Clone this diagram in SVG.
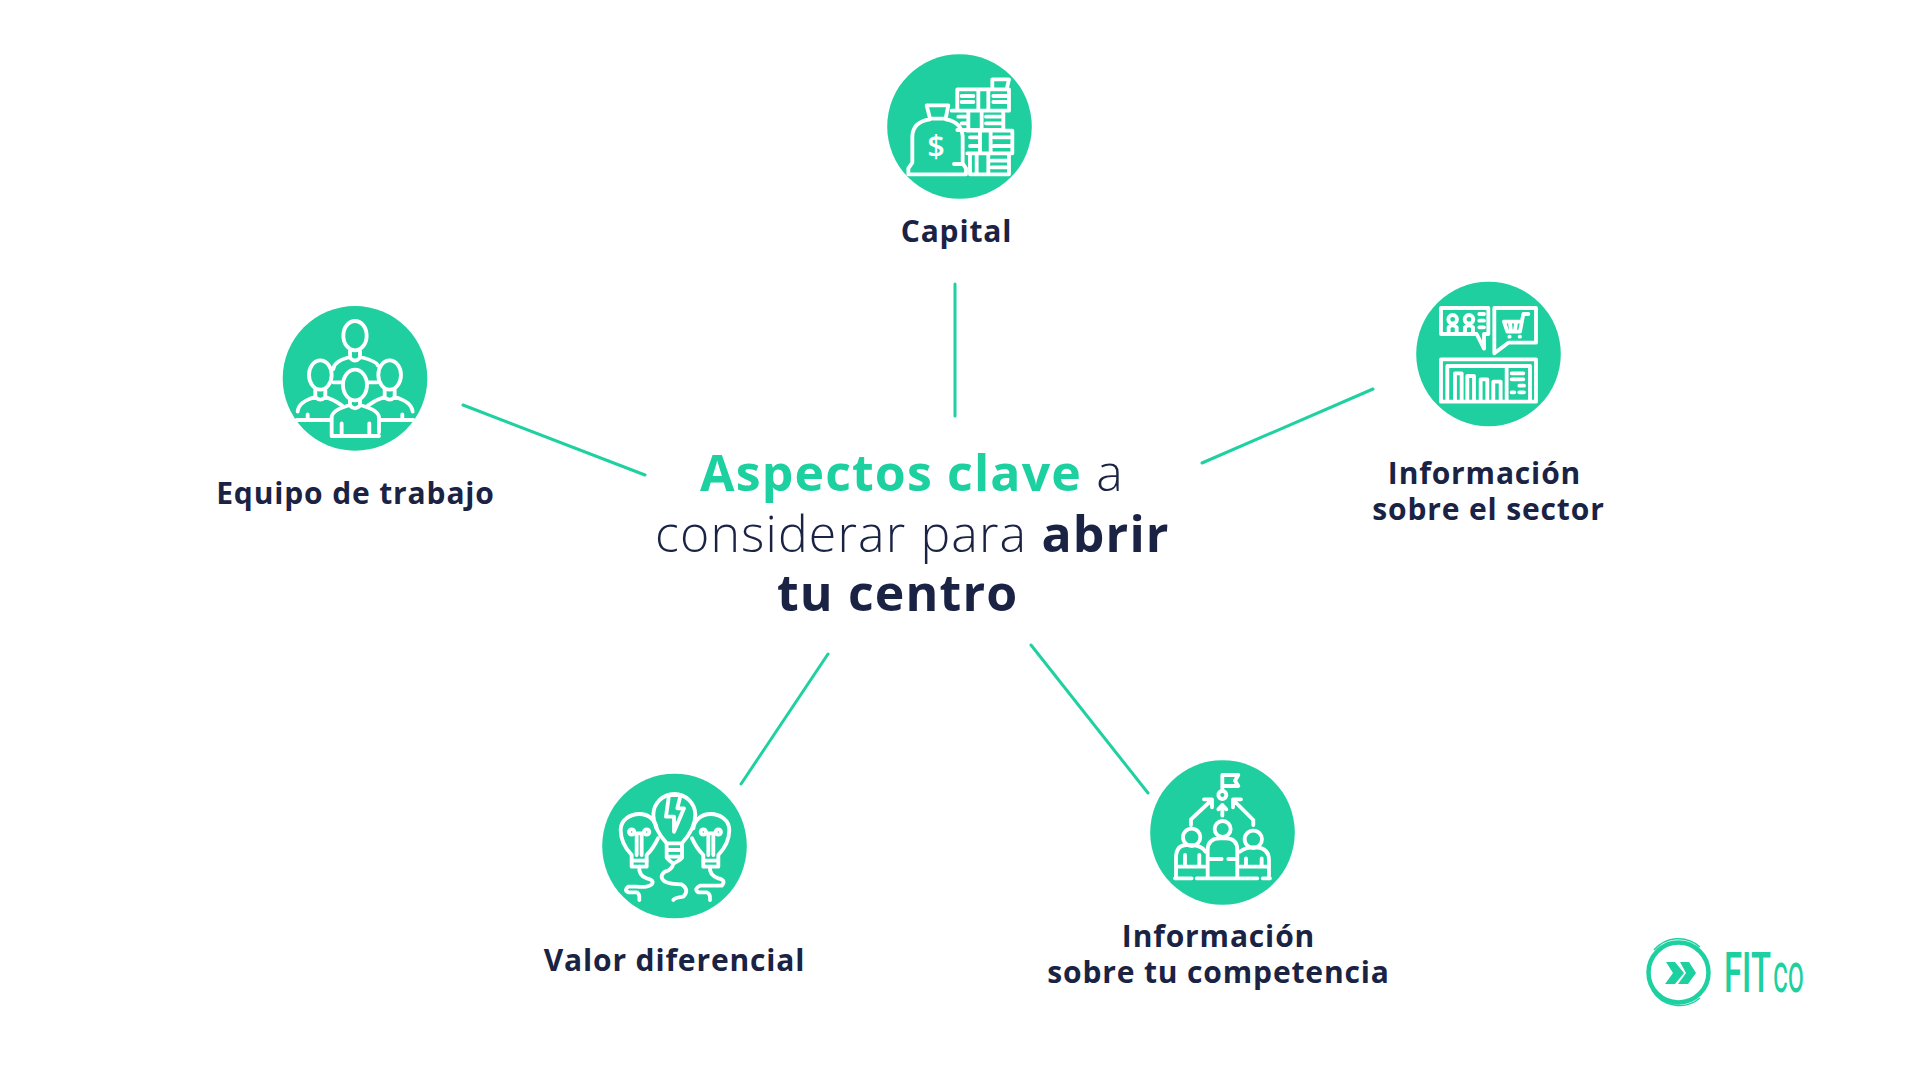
<svg xmlns="http://www.w3.org/2000/svg" width="1920" height="1080" viewBox="0 0 1920 1080">
<style>
text{font-family:"Open Sans","Noto Sans","Liberation Sans",sans-serif}
.lbl{font-size:30px;font-weight:700;fill:#1a2344;text-anchor:middle;letter-spacing:.85px}
.ttl{font-size:50px;fill:#1a2344;letter-spacing:1.15px}
.g{fill:#1dd0a0;font-weight:700}
.l{font-weight:300}
.b{font-weight:700}
.disc{fill:#20cf9f}
.ic{fill:none;stroke:#fff;stroke-width:11.5;stroke-linecap:round;stroke-linejoin:round}
.ln{stroke:#1fd0a0;stroke-width:3;stroke-linecap:round;fill:none}
</style>
<rect width="1920" height="1080" fill="#fff"/>
<g id="connectors" class="ln">
<line x1="955" y1="284" x2="955" y2="416"/>
<line x1="463" y1="405" x2="645" y2="475"/>
<line x1="1373" y1="389" x2="1202" y2="463"/>
<line x1="828" y1="654" x2="741" y2="784"/>
<line x1="1031" y1="645" x2="1148" y2="793"/>
</g>
<g id="title">
<text class="ttl" x="700" y="491"><tspan class="g">Aspectos clave</tspan><tspan class="l"> a</tspan></text>
<text class="ttl" x="655" y="552"><tspan class="l">considerar para </tspan><tspan class="b">abrir</tspan></text>
<text class="ttl b" x="777" y="611">tu centro</text>
</g>
<g id="node-capital">
<circle class="disc" cx="959.5" cy="126.5" r="72.3"/>
<g class="ic" transform="translate(880 40) scale(.3333)">
<path d="M140 196H205L197 236H150ZM150 238Q98 245 97 290V368L85 385V403H258V385L248 370V290Q245 245 197 238M222 372H248"/>
<path d="M337 148V118H387L380 148M232 212V148H387V212H215H258M232 270H370V212M262 272H397V340H262M270 343V403H387V343"/>
<path d="M295 150V210M325 150V210M245 168H280M245 186H280M340 168H380M340 186H380M265 215V268M305 215V268M235 230H258M245 250H262M318 230H365M318 250H365M300 274V338M332 274V338M270 292H295M270 318H295M342 292H390M342 318H390M290 345V400M325 345V400M335 362H380M335 382H380"/>
<text x="168" y="352" font-size="92" font-weight="600" fill="#fff" stroke="none" text-anchor="middle">$</text>
</g>
<text class="lbl" x="956.5" y="242">Capital</text>
</g>
<g id="node-equipo">
<circle class="disc" cx="355" cy="378.4" r="72.3"/>
<g class="ic" transform="translate(270 295) scale(.3333)">
<ellipse cx="255" cy="122" rx="35" ry="44"/><ellipse cx="151" cy="240" rx="34" ry="44"/><ellipse cx="359" cy="240" rx="34" ry="44"/><ellipse cx="255" cy="270" rx="36" ry="46"/>
<path d="M240 168V188Q255 205 270 188V168M190 222Q192 198 240 186M270 186Q320 198 324 212M190 262H215M295 262H322"/>
<path d="M136 284V306Q151 322 166 306V284M83 350Q85 320 136 306M166 306Q195 315 217 332M344 284V306Q359 322 374 306V284M374 306Q425 320 428 350M344 306Q315 315 293 332M80 375H183M330 375H430M113 358V375M397 358V375"/>
<path d="M240 316V332Q255 348 270 332V316M185 423V368Q185 345 240 330M270 330Q327 345 327 368V412M185 423H327M215 385V420M298 385V420"/>
</g>
<text class="lbl" x="355.5" y="504">Equipo de trabajo</text>
</g>
<g id="node-sector">
<circle class="disc" cx="1488.5" cy="354" r="72.3"/>
<g class="ic" transform="translate(1410 270) scale(.3333)">
<path d="M200 192H93V114H235V192H222V236Z"/>
<circle cx="128" cy="148" r="13"/><circle cx="177" cy="148" r="13"/>
<path d="M116 186V172Q128 160 140 172V186M165 186V172Q177 160 189 172V186M208 132H222M208 152H222M208 172H222"/>
<path d="M253 250V114H378V218H295Z"/>
<path d="M355 132H340L330 185H292L282 155H335M300 160L303 182M318 160L315 182"/><path d="M298 200H299M329 200H330"/>
<path d="M93 395V268H378V395ZM112 395V288H360V395M135 390V310H155V390M172 390V318H192V390M212 390V328H232V390M250 390V335H272V390M290 295V395M305 310H340M305 328H340M305 367H313M328 347H342M328 367H342"/>
</g>
<text class="lbl" x="1484.5" y="484">Información</text>
<text class="lbl" x="1488.5" y="520">sobre el sector</text>
</g>
<g id="node-valor">
<circle class="disc" cx="674.5" cy="846" r="72.3"/>
<g class="ic" transform="translate(590 765) scale(.3333)">
<path d="M230 235Q190 190 190 150A63 63 0 1 1 316 150Q316 190 276 235Z"/>
<path d="M237 90H272L262 130H282L252 200V155H228Z"/>
<path d="M230 235V278Q235 285 250 296Q270 285 276 278V235M230 255H276M230 275H276"/>
<path d="M125 270Q92 235 92 195C92 165 120 147 148 147C176 147 196 165 200 190M125 270V305H170V270Q190 250 204 220"/>
<path d="M385 270Q418 235 418 195C418 165 390 147 362 147C334 147 314 165 310 190M385 270V305H340V270Q320 250 306 220"/>
<circle cx="125" cy="201" r="8"/><circle cx="170" cy="201" r="8"/><circle cx="340" cy="201" r="8"/><circle cx="385" cy="201" r="8"/>
<path d="M134 205H161M140 205V270M155 205V270M349 205H376M355 205V270M370 205V270M125 287H170M340 287H385"/>
<path d="M148 305Q145 330 170 340Q195 345 185 358Q175 368 140 365H115Q100 375 115 382H140Q150 385 148 405"/>
<path d="M250 296Q245 315 225 320Q205 335 225 350Q240 358 275 358Q300 375 280 395Q255 398 250 405"/>
<path d="M360 305Q357 330 385 340Q410 345 395 362H330Q310 372 325 382H350Q362 385 360 405"/>
</g>
<text class="lbl" x="674.5" y="971">Valor diferencial</text>
</g>
<g id="node-competencia">
<circle class="disc" cx="1222.5" cy="832.5" r="72.3"/>
<g class="ic" transform="translate(1140 750) scale(.3333)">
<path d="M247 122V75H295L285 92L295 108H247"/><circle cx="247" cy="135" r="12"/>
<path d="M247 197V165M235 178L247 165L259 178M153 225V208L215 150M192 148H216V172M340 225V210L280 150M303 148H279V172"/>
<circle cx="248" cy="237" r="24"/><circle cx="155" cy="262" r="26"/><circle cx="340" cy="268" r="26"/>
<path d="M203 382V300Q203 265 240 265H258Q292 265 292 300V382"/>
<path d="M197 305Q185 285 150 285H140Q108 285 108 325V385M300 305Q315 292 340 292H350Q387 295 387 330V385"/>
<path d="M105 385H155M170 385H352M368 385H390M115 350H195M300 350H385M135 315V350M178 315V350M318 325V350M365 325V350M205 327H245M265 327H290"/>
</g>
<text class="lbl" x="1218.5" y="947">Información</text>
<text class="lbl" x="1218.5" y="983">sobre tu competencia</text>
</g>
<g id="logo">
<circle cx="1678.5" cy="972.5" r="30" fill="none" stroke="#1dd0a0" stroke-width="4.5"/>
<path d="M1654 950A32 32 0 0 1 1700 947M1700 998A32 32 0 0 1 1652 990" fill="none" stroke="#1dd0a0" stroke-width="1.5"/>
<path d="M1666 962H1675L1684 973L1675 984H1665L1673 973ZM1680 962H1689L1696 973L1688 984H1678L1686 973Z" fill="#1dd0a0"/>
<text x="1724" y="992" font-size="55" font-weight="500" fill="#1dd0a0" textLength="47" lengthAdjust="spacingAndGlyphs" style="font-family:Roboto,sans-serif">FIT</text>
<text x="1773" y="992" font-size="56" font-weight="400" fill="#1dd0a0" textLength="31" lengthAdjust="spacingAndGlyphs" style="font-family:Roboto,sans-serif">co</text>
</g>
</svg>
